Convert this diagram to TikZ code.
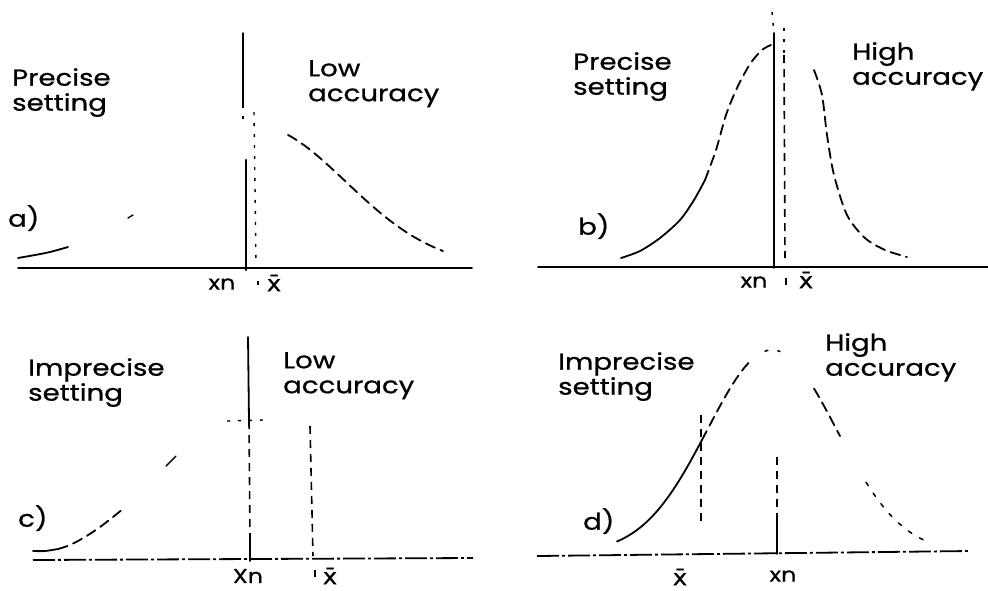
\documentclass[tikz,border=0pt]{standalone}
\usepackage{fontspec}
\setmainfont{Poppins}[FakeStretch=1.2,FakeBold=0.8]
\newfontfamily\dvfont{DejaVu Sans}[FakeStretch=1.1,FakeBold=0.8]
\begin{document}
\begin{tikzpicture}[x=1pt,y=-1pt,
  hand/.style={line width=1.8pt, line cap=round, line join=round},
  broken/.style={hand, dash pattern=on 10pt off 6pt},
  faint/.style={hand, line width=1.5pt, dash pattern=on 3pt off 10pt},
  dashv/.style={line width=1.6pt, dash pattern=on 8pt off 6pt},
  dotv/.style={line width=1.4pt, dash pattern=on 3pt off 8pt},
  dashdot/.style={line width=1.8pt, dash pattern=on 22pt off 3pt on 3pt off 3pt},
  lbl/.style={anchor=north west, inner sep=0pt, align=left, font=\fontsize{23}{25}\selectfont},
  axl/.style={inner sep=0pt, font=\fontsize{20}{22}\selectfont},
  bar/.style={inner sep=0pt, font=\dvfont\fontsize{22}{24}\selectfont}]
\useasboundingbox (0,0) rectangle (988,590);

% ---------------- panel a ----------------
\coordinate (aL) at (18,268); \coordinate (aR) at (472,268);
\draw[hand] (aL) -- (aR);
\coordinate (aXt) at (243,33); \coordinate (aXm) at (243,105);
\coordinate (aXg) at (243,125); \coordinate (aXb) at (246,160);
\coordinate (aX0) at (246,270);
\draw[hand,line width=1.4pt] (aXt) -- (aXm);
\draw[dotv] (aXm) -- (aXg);
\draw[hand,line width=2.2pt] (aXb) -- (aX0);
\coordinate (aMt) at (254,112); \coordinate (aM0) at (256,262);
\draw[dotv] (aMt) -- (aM0);
\draw[hand] plot[smooth] coordinates {(18,258) (35,255) (50,252) (68,247)};
\draw[hand,line width=1.4pt] (128,218) -- (133,215);
\draw[broken] plot[domain=288:443,samples=40] (\x,{268-142.5*exp(-((\x-254)/100)^2/1.6804)});
\node[lbl] (aT1) at (12,68) {Precise\\setting};
\node[lbl] (aT2) at (308,60) {Low\\accuracy};
\node[lbl] (aT3) at (8,205) {a)};
\node[axl] (aXn) at (222,284) {xn};
\node[bar] (aXbar) at (274,283) {\={x}};
\coordinate (aDt) at (258,281); \coordinate (aDb) at (258,285);
\draw[line width=1.4pt] (aDt) -- (aDb);

% ---------------- panel b ----------------
\coordinate (bL) at (538,267); \coordinate (bR) at (988,267);
\draw[hand] (bL) -- (bR);
\coordinate (bXt) at (774,33); \coordinate (bX0) at (774,268);
\coordinate (bXd) at (772,12);
\draw[hand] (bXt) -- (bX0);
\draw[dotv] (bXd) -- (bXt);
\coordinate (bMt) at (784,28); \coordinate (bMm) at (784,55); \coordinate (bM0) at (785,258);
\draw[dotv] (bMt) -- (bMm);
\draw[dashv] (bMm) -- (bM0);
\draw[hand] plot[smooth] coordinates {(621,258) (640,251) (660,238) (680,220) (694,200) (705,180)};
\draw[broken] plot[smooth] coordinates {(705,180) (716,150) (726,115) (737,88) (750,64) (762,50) (771,45)};
\draw[broken] plot[smooth] coordinates {(814,70) (822,95) (827,135) (834,175) (847,215) (865,238) (885,250) (907,257)};
\node[lbl] (bT1) at (573,52) {Precise\\setting};
\node[lbl] (bT2) at (852,42) {High\\accuracy};
\node[lbl] (bT3) at (578,213) {b)};
\node[axl] (bXn) at (754,282) {xn};
\node[bar] (bXbar) at (806,280) {\={x}};
\coordinate (bDt) at (786,278); \coordinate (bDb) at (786,285);
\draw[line width=1.6pt] (bDt) -- (bDb);

% ---------------- panel c ----------------
\coordinate (cL) at (33,560); \coordinate (cR) at (473,558);
\draw[dashdot] (cL) -- (cR);
\coordinate (cXt) at (248,337); \coordinate (cXm) at (249,421);
\coordinate (cXg) at (250,535); \coordinate (cX0) at (250,561);
\draw[hand] (cXt) -- (cXm);
\draw[dashv] (cXm) -- (cXg);
\draw[hand] (cXg) -- (cX0);
\coordinate (cTl) at (227,421); \coordinate (cTr) at (263,420);
\draw[dotv] (cTl) -- (cTr);
\coordinate (cMt) at (310,426); \coordinate (cM0) at (313,556);
\draw[dashv] (cMt) -- (cM0);
\draw[hand] plot[smooth] coordinates {(33,551) (45,551) (58,549)};
\draw[broken] plot[smooth] coordinates {(58,549) (70,545) (85,537) (100,527) (113,517) (124,508)};
\draw[hand,line width=1.4pt] (166,466) -- (176,456);
\node[lbl] (cT1) at (28,358) {Imprecise\\setting};
\node[lbl] (cT2) at (283,352) {Low\\accuracy};
\node[lbl] (cT3) at (18,505) {c)};
\node[axl] (cXn) at (248,576) {Xn};
\node[bar] (cXbar) at (330,576) {\={x}};
\coordinate (cDt) at (315,570); \coordinate (cDb) at (315,577);
\draw[line width=1.4pt] (cDt) -- (cDb);

% ---------------- panel d ----------------
\coordinate (dL) at (537,556); \coordinate (dR) at (970,551);
\draw[dashdot] (dL) -- (dR);
\coordinate (dXt) at (777,457); \coordinate (dXm) at (777,520); \coordinate (dX0) at (777,554);
\draw[dashv] (dXt) -- (dXm);
\draw[hand] (dXm) -- (dX0);
\coordinate (dMt) at (701,415); \coordinate (dM0) at (701,523);
\draw[dashv] (dMt) -- (dM0);
\draw[hand] plot[domain=617:702,samples=30] (\x,{553-203*exp(-((\x-772)/100)^2/0.8376)});
\draw[broken] plot[domain=702:752,samples=20] (\x,{553-203*exp(-((\x-772)/100)^2/0.8376)});
\draw[faint] plot[domain=765:780,samples=6] (\x,{553-203*exp(-((\x-772)/100)^2/0.8376)});
\draw[broken] plot[domain=814:840,samples=12] (\x,{553-203*exp(-((\x-772)/100)^2/0.8376)});
\draw[faint,dash pattern=on 4pt off 9pt] plot[domain=866:928,samples=20] (\x,{553-203*exp(-((\x-772)/100)^2/0.8376)});
\node[lbl] (dT1) at (558,352) {Imprecise\\setting};
\node[lbl] (dT2) at (825,333) {High\\accuracy};
\node[lbl] (dT3) at (583,508) {d)};
\node[bar] (dXbar) at (680,577) {\={x}};
\node[axl] (dXn) at (783,576) {xn};
\end{tikzpicture}
\end{document}
